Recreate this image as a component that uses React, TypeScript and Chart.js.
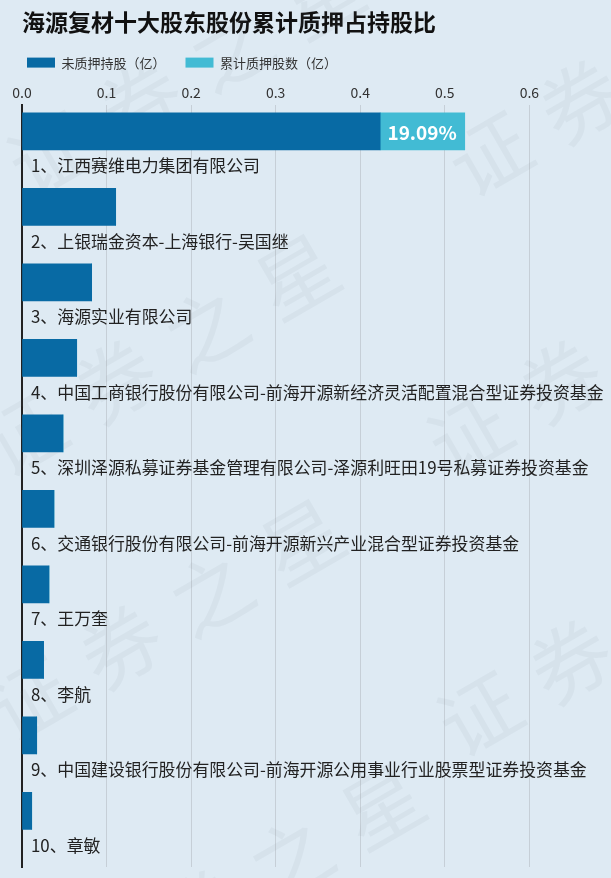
import React, { useEffect, useRef } from 'react';
import { Chart, registerables } from 'chart.js';

Chart.register(...registerables);

const TITLE = '海源复材十大股东股份累计质押占持股比';
const SERIES_NAMES = ['未质押持股（亿）', '累计质押股数（亿）'];

const categories = [
  '1、江西赛维电力集团有限公司',
  '2、上银瑞金资本-上海银行-吴国继',
  '3、海源实业有限公司',
  '4、中国工商银行股份有限公司-前海开源新经济灵活配置混合型证券投资基金',
  '5、深圳泽源私募证券基金管理有限公司-泽源利旺田19号私募证券投资基金',
  '6、交通银行股份有限公司-前海开源新兴产业混合型证券投资基金',
  '7、王万奎',
  '8、李航',
  '9、中国建设银行股份有限公司-前海开源公用事业行业股票型证券投资基金',
  '10、章敏',
];

const unpledged = [0.4236, 0.1108, 0.0824, 0.0647, 0.0485, 0.0378, 0.0319, 0.0256, 0.0174, 0.0115];
const pledged = [0.1, 0, 0, 0, 0, 0, 0, 0, 0, 0];
const pledgeRatioLabels = ['19.09%', '', '', '', '', '', '', '', '', ''];
const xTicks = [0, 0.1, 0.2, 0.3, 0.4, 0.5, 0.6];

const WATERMARK = '证券之星';

const FAMILY = '"Noto Sans CJK SC", "Noto Sans", sans-serif';
const BG = '#deeaf3';
const DARK = '#086aa4';
const LIGHT = '#42bbd4';

const bgPlugin = {
  id: 'bgFill',
  beforeDraw(chart: any) {
    const { ctx, width, height } = chart;
    ctx.save();
    ctx.fillStyle = BG;
    ctx.fillRect(0, 0, width, height);
    ctx.restore();
  },
};

const watermarkOrigins = [
  [30, 200], [470, 200], [5, 480], [450, 480], [10, 745], [460, 760], [90, 1010],
];

const watermarkPlugin = {
  id: 'watermark',
  beforeDatasetsDraw(chart: any) {
    const { ctx } = chart;
    ctx.save();
    ctx.fillStyle = 'rgba(110,125,140,0.07)';
    ctx.font = `80px ${FAMILY}`;
    ctx.textBaseline = 'alphabetic';
    ctx.textAlign = 'left';
    watermarkOrigins.forEach(([x, y]) => {
      ctx.save();
      ctx.translate(x, y);
      ctx.rotate((-30 * Math.PI) / 180);
      Array.from(WATERMARK).forEach((ch, k) => ctx.fillText(ch, k * 105, 0));
      ctx.restore();
    });
    ctx.restore();
  },
};

const labelPlugin = {
  id: 'barLabels',
  afterDatasetsDraw(chart: any) {
    const { ctx, chartArea } = chart;
    const meta0 = chart.getDatasetMeta(0);
    const meta1 = chart.getDatasetMeta(1);
    ctx.save();
    ctx.textBaseline = 'middle';
    ctx.textAlign = 'left';
    ctx.fillStyle = '#222';
    ctx.font = `16.9px ${FAMILY}`;
    categories.forEach((c, i) => {
      const el = meta0.data[i];
      ctx.fillText(c, chartArea.left + 9, el.y + 34.3);
    });
    ctx.textAlign = 'right';
    ctx.fillStyle = '#ffffff';
    ctx.font = `bold 19px ${FAMILY}`;
    pledgeRatioLabels.forEach((t, i) => {
      if (!t) return;
      const el = meta1.data[i];
      ctx.fillText(t, el.x - 8, el.y + 1);
    });
    ctx.restore();
  },
};

const legendShiftPlugin = {
  id: 'legendShift',
  afterLayout(chart: any) {
    const l = chart.legend;
    if (l) {
      l.left -= 15;
      l.right -= 15;
    }
  },
};

export default function App() {
  const ref = useRef<HTMLCanvasElement>(null);
  useEffect(() => {
    document.body.style.margin = '0';
    document.body.style.background = BG;
    const canvas = ref.current!;
    const chart = new Chart(canvas, {
      type: 'bar',
      data: {
        datasets: [
          {
            label: SERIES_NAMES[0],
            data: unpledged.map((v, i) => ({ x: v, y: i })),
            backgroundColor: DARK,
            borderWidth: 0,
            barThickness: 37,
          },
          {
            label: SERIES_NAMES[1],
            data: pledged.map((v, i) => ({ x: v, y: i })),
            backgroundColor: LIGHT,
            borderWidth: 0,
            barThickness: 37,
          },
        ],
      },
      options: {
        indexAxis: 'y',
        responsive: false,
        animation: false,
        devicePixelRatio: 1,
        layout: { padding: { left: 22, right: 14, top: 0, bottom: 11 } },
        scales: {
          x: {
            type: 'linear',
            position: 'top',
            min: 0,
            max: 0.68,
            bounds: 'data',
            stacked: true,
            ticks: {
              stepSize: 0.1,
              padding: 4,
              color: '#333',
              font: { size: 14, family: FAMILY },
              callback: (v: any) => Number(v).toFixed(1),
            },
            afterBuildTicks: (s: any) => {
              s.ticks = s.ticks.filter((t: any) => xTicks.some((x) => Math.abs(x - t.value) < 1e-9));
            },
            afterFit: (s: any) => {
              s.height = 25.6;
            },
            grid: { color: '#c6cfd7', lineWidth: 1, drawTicks: false },
            border: { display: false },
          },
          y: {
            type: 'linear',
            min: -0.353,
            max: 9.743,
            reverse: true,
            stacked: true,
            offset: false,
            bounds: 'data',
            ticks: { display: false },
            grid: { display: false, drawTicks: false, offset: false },
            border: { display: true, color: '#222', width: 2 },
            afterFit: (s: any) => {
              s.width = 0;
            },
          },
        },
        plugins: {
          title: {
            display: true,
            text: TITLE,
            align: 'start',
            color: '#111',
            font: { size: 23, weight: 'bold', family: FAMILY },
            padding: { top: 8.5, bottom: 0 },
          },
          legend: {
            display: true,
            position: 'top',
            align: 'start',
            labels: {
              boxWidth: 28,
              boxHeight: 10,
              padding: 20,
              color: '#333',
              font: { size: 13, family: FAMILY },
            },
          },
          tooltip: { enabled: false },
        },
      } as any,
      plugins: [bgPlugin, watermarkPlugin, labelPlugin, legendShiftPlugin],
    });
    return () => chart.destroy();
  }, []);
  return (
    <canvas ref={ref} width={611} height={878} style={{ display: 'block', width: 611, height: 878 }} />
  );
}
